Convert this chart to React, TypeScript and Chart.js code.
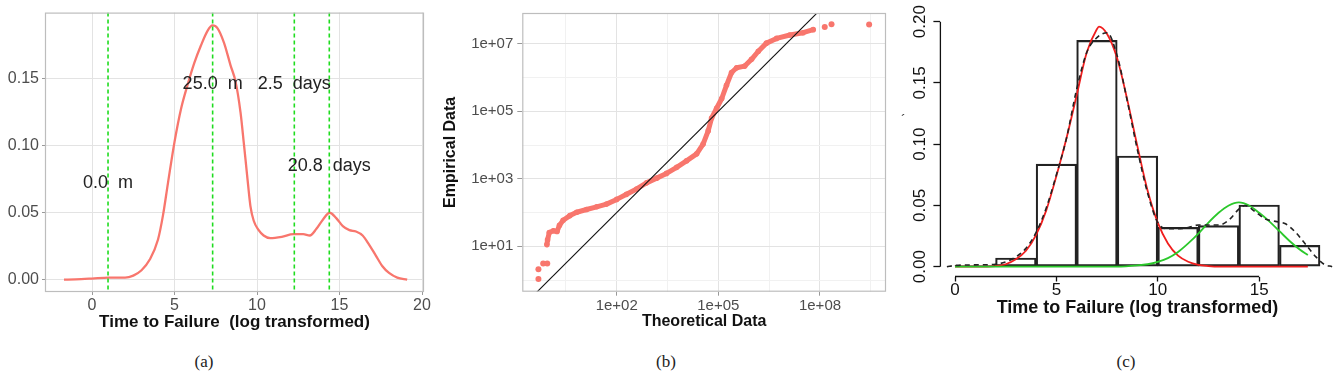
import React, { useEffect, useRef } from "react";
import { Chart, registerables } from "chart.js";

Chart.register(...registerables);

const FONT = '"Liberation Sans", Arial, Helvetica, sans-serif';
Chart.defaults.font.family = FONT;

// ---------------- Panel (a): density of log time to failure ----------------
const densX = [-1.7, -1, 0, 1, 2, 2.5, 3, 3.5, 4, 4.3, 4.6, 5, 5.4, 5.8, 6.2, 6.6, 7, 7.3, 7.6, 8, 8.4, 8.7, 9, 9.2, 9.4, 9.6, 9.8, 10.1, 10.4, 10.8, 11.5, 12.2, 12.8, 13.2, 13.6, 14, 14.4, 14.8, 15.2, 15.6, 16, 16.4, 16.8, 17.2, 17.6, 18, 18.5, 19.1];
const densY = [0, 0.0002, 0.0008, 0.0015, 0.0015, 0.003, 0.007, 0.015, 0.03, 0.048, 0.072, 0.103, 0.128, 0.146, 0.162, 0.175, 0.186, 0.19, 0.188, 0.177, 0.16, 0.148, 0.125, 0.102, 0.078, 0.055, 0.044, 0.037, 0.033, 0.031, 0.032, 0.034, 0.034, 0.033, 0.038, 0.045, 0.05, 0.046, 0.04, 0.037, 0.036, 0.033, 0.026, 0.018, 0.01, 0.005, 0.0015, 0];
const modeX = [0.97, 7.31, 12.26, 14.38];
const modeLabelY = [0.072, 0.146, 0.146, 0.085];
const modeLabels = ["0.0  m", "25.0  m", "2.5  days", "20.8  days"];
const aXTicks = [0, 5, 10, 15, 20];
const aYTicks = [0, 0.05, 0.1, 0.15];

// ---------------- Panel (b): Q-Q plot (log10 exponents) ----------------
const qqLowTheo = [-0.31, -0.31, -0.17, -0.05];
const qqLowEmp = [0.03, 0.32, 0.49, 0.49];
const qqBandTheo = [-0.06, -0.04, 0.01, 0.13, 0.24, 0.31, 0.42, 0.62, 0.82, 1.11, 1.41, 1.7, 2.0, 2.29, 2.59, 2.88, 3.18, 3.47, 3.77, 4.06, 4.36, 4.55, 4.7, 4.8, 4.95, 5.1, 5.24, 5.39, 5.54, 5.78, 5.98, 6.18, 6.42, 6.72, 7.11, 7.5, 7.8];
const qqBandEmp = [1.05, 1.19, 1.41, 1.46, 1.44, 1.62, 1.77, 1.91, 2.01, 2.09, 2.17, 2.25, 2.39, 2.54, 2.7, 2.88, 3.02, 3.16, 3.34, 3.53, 3.74, 4.03, 4.42, 4.8, 5.09, 5.38, 5.77, 6.15, 6.29, 6.34, 6.54, 6.78, 7.02, 7.16, 7.26, 7.33, 7.42];
const qqHighTheo = [8.14, 8.34, 9.45];
const qqHighEmp = [7.5, 7.58, 7.57];
const refLineExp = [-1, 10];
const bXMajor = [2, 5, 8];
const bXMinor = [0.5, 3.5, 6.5, 9.5];
const bYMajor = [1, 3, 5, 7];
const bYMinor = [0, 2, 4, 6];

// ---------------- Panel (c): histogram with mixture components ----------------
const binCenters = [1, 3, 5, 7, 9, 11, 13, 15, 17];
const binDensity = [0.0011, 0.0071, 0.0838, 0.1848, 0.0904, 0.0321, 0.0335, 0.0504, 0.0174];
const redX = [0, 1, 2, 2.5, 3, 3.5, 4, 4.5, 5, 5.5, 6, 6.5, 7, 7.1, 7.5, 8, 8.5, 9, 9.5, 10, 10.5, 11, 11.5, 12, 12.5, 13, 17.4];
const redY = [0, 0, 0.0005, 0.002, 0.006, 0.013, 0.026, 0.046, 0.074, 0.105, 0.14, 0.175, 0.194, 0.196, 0.19, 0.17, 0.136, 0.098, 0.062, 0.036, 0.019, 0.009, 0.004, 0.0015, 0.0005, 0, 0];
const greenX = [0, 8, 9, 9.5, 10, 10.5, 11, 11.5, 12, 12.5, 13, 13.5, 14, 14.5, 15, 15.5, 16, 16.5, 17, 17.4];
const greenY = [0, 0, 0.001, 0.002, 0.004, 0.007, 0.012, 0.019, 0.027, 0.036, 0.044, 0.05, 0.0525, 0.05, 0.044, 0.037, 0.029, 0.021, 0.014, 0.0095];
const kdeX = [-0.4, 0, 1, 2, 2.5, 3, 3.5, 4, 4.5, 5, 5.5, 6, 6.5, 7, 7.5, 8, 8.5, 9, 9.5, 10, 10.5, 11, 11.5, 12, 12.5, 13, 13.5, 14, 14.3, 14.8, 15.3, 15.8, 16.3, 16.8, 17.3, 17.8, 18.2, 18.6];
const kdeY = [0, 0.001, 0.0015, 0.002, 0.004, 0.008, 0.015, 0.028, 0.048, 0.075, 0.105, 0.145, 0.175, 0.187, 0.191, 0.172, 0.135, 0.095, 0.06, 0.036, 0.031, 0.031, 0.032, 0.034, 0.034, 0.034, 0.038, 0.047, 0.05, 0.045, 0.039, 0.037, 0.035, 0.028, 0.018, 0.008, 0.002, 0];
const cXTicks = [0, 5, 10, 15];
const cYTicks = [0, 0.05, 0.1, 0.15, 0.2];

// ---------------- helpers ----------------
const xy = (xs: number[], ys: number[]) => xs.map((x, i) => ({ x, y: ys[i] }));
const pow = (xs: number[], ys: number[]) => xs.map((x, i) => ({ x: Math.pow(10, x), y: Math.pow(10, ys[i]) }));
const near = (arr: number[], v: number) => arr.some((a) => Math.abs(a - v) < 1e-6);
const expLabel = (e: number) => "1e+" + String(Math.round(e)).padStart(2, "0");

const noUi = {
  animation: false,
  responsive: false,
  events: [],
  plugins: { legend: { display: false }, tooltip: { enabled: false }, title: { display: false } },
};

const panelAPlugin = {
  id: "panelA",
  afterDatasetsDraw(chart: any) {
    const { ctx, chartArea: a, scales } = chart;
    const x = scales.x;
    const y = scales.y;
    ctx.save();
    ctx.beginPath();
    ctx.rect(a.left, a.top, a.right - a.left, a.bottom - a.top);
    ctx.clip();
    ctx.strokeStyle = "#1FDC1F";
    ctx.lineWidth = 1.6;
    ctx.setLineDash([4, 3]);
    modeX.forEach((v) => {
      const px = x.getPixelForValue(v);
      ctx.beginPath();
      ctx.moveTo(px, a.top);
      ctx.lineTo(px, a.bottom);
      ctx.stroke();
    });
    ctx.setLineDash([]);
    ctx.fillStyle = "#222";
    ctx.font = `18px ${FONT}`;
    ctx.textAlign = "center";
    ctx.textBaseline = "middle";
    modeLabels.forEach((t, i) => {
      ctx.fillText(t, x.getPixelForValue(modeX[i]), y.getPixelForValue(modeLabelY[i]));
    });
    ctx.restore();
    ctx.save();
    ctx.strokeStyle = "#BDBDBD";
    ctx.lineWidth = 1.2;
    ctx.strokeRect(a.left + 0.5, a.top + 0.5, a.right - a.left - 1, a.bottom - a.top - 1);
    ctx.restore();
  },
};

const borderPlugin = {
  id: "panelBorder",
  afterDatasetsDraw(chart: any) {
    const { ctx, chartArea: a } = chart;
    ctx.save();
    ctx.strokeStyle = "#BDBDBD";
    ctx.lineWidth = 1.2;
    ctx.strokeRect(a.left + 0.5, a.top + 0.5, a.right - a.left - 1, a.bottom - a.top - 1);
    ctx.restore();
  },
};

const baseAxisPlugin = {
  id: "baseAxes",
  afterDraw(chart: any) {
    const { ctx, chartArea: a, scales } = chart;
    const x = scales.x;
    const y = scales.y;
    ctx.save();
    ctx.strokeStyle = "#111";
    ctx.lineWidth = 1.3;
    ctx.beginPath();
    ctx.moveTo(x.getPixelForValue(cXTicks[0]), a.bottom);
    ctx.lineTo(x.getPixelForValue(cXTicks[cXTicks.length - 1]), a.bottom);
    ctx.moveTo(a.left, y.getPixelForValue(cYTicks[0]));
    ctx.lineTo(a.left, y.getPixelForValue(cYTicks[cYTicks.length - 1]));
    ctx.stroke();
    ctx.restore();
  },
};

function configA() {
  return {
    type: "line",
    data: {
      datasets: [
        {
          data: xy(densX, densY),
          borderColor: "#F8766D",
          borderWidth: 2.3,
          pointRadius: 0,
          cubicInterpolationMode: "monotone",
          fill: false,
        },
      ],
    },
    options: {
      ...noUi,
      layout: { padding: { left: 0, right: 16, top: 5, bottom: 0 } },
      scales: {
        x: {
          type: "linear",
          min: -2.85,
          max: 20.12,
          afterBuildTicks: (s: any) => {
            s.ticks = aXTicks.map((v) => ({ value: v }));
          },
          afterFit: (s: any) => {
            s.height = 48;
          },
          border: { display: false },
          grid: { color: "#E3E3E3", lineWidth: 1, tickLength: 3, tickColor: "#999", tickWidth: 1 },
          ticks: { color: "#4D4D4D", font: { size: 16 }, padding: 1, maxRotation: 0, autoSkip: false, callback: (v: any) => String(v) },
          title: {
            display: true,
            text: "Time to Failure  (log transformed)",
            color: "#111",
            font: { size: 17, weight: "bold" },
            padding: { top: 0, bottom: 7 },
          },
        },
        y: {
          type: "linear",
          min: -0.00924,
          max: 0.1996,
          afterBuildTicks: (s: any) => {
            s.ticks = aYTicks.map((v) => ({ value: v }));
          },
          afterFit: (s: any) => {
            s.width = 45;
          },
          border: { display: false },
          grid: { color: "#E3E3E3", lineWidth: 1, tickLength: 3, tickColor: "#999", tickWidth: 1 },
          ticks: { color: "#4D4D4D", font: { size: 16 }, padding: 3, autoSkip: false, callback: (v: any) => Number(v).toFixed(2) },
        },
      },
    },
    plugins: [panelAPlugin],
  };
}

function configB() {
  const xTickVals = [...bXMinor, ...bXMajor].sort((p, q) => p - q);
  const yTickVals = [...bYMinor, ...bYMajor].sort((p, q) => p - q);
  const gridColor = (majors: number[]) => (c: any) =>
    c.tick && near(majors, Math.log10(c.tick.value)) ? "#E3E3E3" : "#F1F1F1";
  const tickColor = (majors: number[]) => (c: any) =>
    c.tick && near(majors, Math.log10(c.tick.value)) ? "#999" : "rgba(0,0,0,0)";
  return {
    type: "scatter",
    data: {
      datasets: [
        {
          data: pow(refLineExp, refLineExp),
          showLine: true,
          borderColor: "#111",
          borderWidth: 1.1,
          pointRadius: 0,
          order: 0,
        },
        {
          data: pow(qqBandTheo, qqBandEmp),
          showLine: true,
          borderColor: "#F8766D",
          borderWidth: 5,
          borderCapStyle: "round",
          borderJoinStyle: "round",
          backgroundColor: "#F8766D",
          pointRadius: 2.8,
          pointBorderWidth: 0,
          order: 1,
        },
        {
          data: pow(qqLowTheo, qqLowEmp),
          backgroundColor: "#F8766D",
          pointRadius: 3,
          pointBorderWidth: 0,
          order: 1,
        },
        {
          data: pow(qqHighTheo, qqHighEmp),
          backgroundColor: "#F8766D",
          pointRadius: 3,
          pointBorderWidth: 0,
          order: 1,
        },
      ],
    },
    options: {
      ...noUi,
      layout: { padding: { left: 0, right: 14, top: 5, bottom: 0 } },
      scales: {
        x: {
          type: "logarithmic",
          min: Math.pow(10, -0.786),
          max: Math.pow(10, 9.948),
          afterBuildTicks: (s: any) => {
            s.ticks = xTickVals.map((e) => ({ value: Math.pow(10, e) }));
          },
          afterFit: (s: any) => {
            s.height = 48.3;
          },
          border: { display: false },
          grid: { color: gridColor(bXMajor), lineWidth: 1, tickLength: 4, tickColor: tickColor(bXMajor), tickWidth: 1 },
          ticks: {
            color: "#4D4D4D",
            font: { size: 15 },
            padding: 1,
            maxRotation: 0,
            autoSkip: false,
            callback: (v: any) => {
              const e = Math.log10(Number(v));
              return near(bXMajor, e) ? expLabel(e) : "";
            },
          },
          title: {
            display: true,
            text: "Theoretical Data",
            color: "#111",
            font: { size: 16, weight: "bold" },
            padding: { top: 0, bottom: 8.4 },
          },
        },
        y: {
          type: "logarithmic",
          min: Math.pow(10, -0.345),
          max: Math.pow(10, 7.913),
          afterBuildTicks: (s: any) => {
            s.ticks = yTickVals.map((e) => ({ value: Math.pow(10, e) }));
          },
          afterFit: (s: any) => {
            s.width = 82.3;
          },
          border: { display: false },
          grid: { color: gridColor(bYMajor), lineWidth: 1, tickLength: 5, tickColor: tickColor(bYMajor), tickWidth: 1 },
          ticks: {
            color: "#4D4D4D",
            font: { size: 15 },
            padding: 4,
            autoSkip: false,
            callback: (v: any) => {
              const e = Math.log10(Number(v));
              return near(bYMajor, e) ? expLabel(e) : "";
            },
          },
          title: {
            display: true,
            text: "Empirical Data",
            color: "#111",
            font: { size: 16, weight: "bold" },
            padding: { top: 1, bottom: 0 },
          },
        },
      },
    },
    plugins: [borderPlugin],
  };
}

function configC() {
  return {
    type: "bar",
    data: {
      datasets: [
        {
          type: "bar",
          data: xy(binCenters, binDensity),
          backgroundColor: "rgba(255,255,255,0)",
          borderColor: "#222",
          borderWidth: 1.5,
          borderSkipped: false,
          barPercentage: 1,
          categoryPercentage: 1,
          order: 4,
        },
        {
          type: "line",
          data: xy(redX, redY),
          borderColor: "#F01E1E",
          borderWidth: 1.8,
          pointRadius: 0,
          cubicInterpolationMode: "monotone",
          fill: false,
          order: 3,
        },
        {
          type: "line",
          data: xy(greenX, greenY),
          borderColor: "#2BC82B",
          borderWidth: 1.8,
          pointRadius: 0,
          cubicInterpolationMode: "monotone",
          fill: false,
          order: 2,
        },
        {
          type: "line",
          data: xy(kdeX, kdeY),
          borderColor: "#222",
          borderWidth: 1.6,
          borderDash: [5, 4],
          pointRadius: 0,
          cubicInterpolationMode: "monotone",
          fill: false,
          order: 1,
        },
      ],
    },
    options: {
      ...noUi,
      layout: { padding: { left: 0, right: 9.4, top: 11.9, bottom: 0 } },
      scales: {
        x: {
          type: "linear",
          offset: false,
          min: -0.72,
          max: 18.72,
          afterBuildTicks: (s: any) => {
            s.ticks = cXTicks.map((v) => ({ value: v }));
          },
          afterFit: (s: any) => {
            s.height = 63.5;
          },
          border: { display: false },
          grid: { offset: false, drawOnChartArea: false, drawTicks: true, tickLength: 5, tickColor: "#111", tickWidth: 1.3 },
          ticks: { color: "#111", font: { size: 17 }, padding: -1, maxRotation: 0, autoSkip: false, callback: (v: any) => String(v) },
          title: {
            display: true,
            text: "Time to Failure (log transformed)",
            color: "#111",
            font: { size: 18, weight: "bold" },
            padding: { top: 0, bottom: 21 },
          },
        },
        y: {
          type: "linear",
          min: -0.008,
          max: 0.208,
          afterBuildTicks: (s: any) => {
            s.ticks = cYTicks.map((v) => ({ value: v }));
          },
          afterFit: (s: any) => {
            s.width = 40.4;
          },
          border: { display: false },
          grid: { drawOnChartArea: false, drawTicks: true, tickLength: 7, tickColor: "#111", tickWidth: 1.3 },
          ticks: {
            color: "#111",
            font: { size: 17 },
            padding: -3,
            minRotation: 90,
            maxRotation: 90,
            crossAlign: "center",
            autoSkip: false,
            callback: (v: any) => Number(v).toFixed(2),
          },
        },
      },
    },
    plugins: [baseAxisPlugin],
  };
}

function ChartBox({ left, top, width, height, make }: { left: number; top: number; width: number; height: number; make: () => any }) {
  const ref = useRef<HTMLCanvasElement | null>(null);
  useEffect(() => {
    if (!ref.current) return;
    const chart = new Chart(ref.current, make());
    return () => chart.destroy();
  }, []);
  return (
    <div style={{ position: "absolute", left, top, width, height }}>
      <canvas ref={ref} width={width} height={height} style={{ width, height, display: "block" }} />
    </div>
  );
}

function Caption({ cx, text }: { cx: number; text: string }) {
  return (
    <div
      style={{
        position: "absolute",
        left: cx - 30,
        top: 352,
        width: 60,
        textAlign: "center",
        fontFamily: '"Liberation Serif", "Times New Roman", serif',
        fontSize: 17,
        lineHeight: "20px",
        color: "#222",
      }}
    >
      {text}
    </div>
  );
}

export default function App() {
  return (
    <div style={{ position: "fixed", left: 0, top: 0, width: 1344, height: 378, background: "#fff", overflow: "hidden" }}>
      <ChartBox left={0} top={0} width={440} height={340} make={configA} />
      <ChartBox left={440} top={0} width={460} height={340} make={configB} />
      <ChartBox left={900} top={0} width={444} height={340} make={configC} />
      <div
        style={{
          position: "absolute",
          left: 901,
          top: 112,
          fontFamily: FONT,
          fontSize: 14,
          lineHeight: "16px",
          color: "#333",
        }}
      >
        ´
      </div>
      <Caption cx={204} text="(a)" />
      <Caption cx={666} text="(b)" />
      <Caption cx={1126} text="(c)" />
    </div>
  );
}
